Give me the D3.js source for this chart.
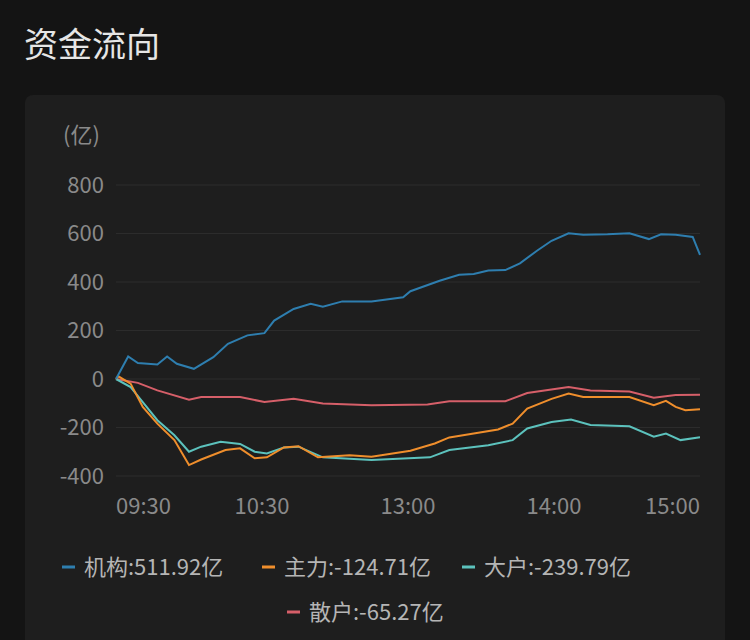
<!DOCTYPE html><html><head><meta charset="utf-8"><script src="https://cdn.jsdelivr.net/npm/d3@7"></script>
<style>body{margin:0;background:#141414;}svg{display:block;font-family:"Noto Sans CJK SC","Noto Sans",sans-serif;}</style></head><body>
<svg id="c" width="750" height="640"></svg>
<script>
const seriesNames=["机构","主力","大户","散户"];
const seriesTotals=["511.92亿","-124.71亿","-239.79亿","-65.27亿"];
const colors=["#2e7eaf","#ef8e2c","#5cc2bd","#d65f69"];
const yTicks=[800,600,400,200,0,-200,-400];
const xTickLabels=["09:30","10:30","13:00","14:00","15:00"];
const xTickMinutes=[0,60,120,180,240];
const jigou=[[0,0],[5,93],[9,66],[17,60],[21,93],[25,63],[32,42],[40,90],[46,145],[54,180],[61,189],[65,241],[73,289],[80,310],[85,298],[93,320],[105,320],[118,337],[121,362],[133,405],[141,430],[147,433],[153,447],[160,449],[166,477],[173,529],[179,570],[186,601],[192,595],[202,597],[211,601],[219,577],[224,597],[230,595],[237,586],[240,512]];
const zhuli=[[0,0],[1,11],[6,-19],[11,-115],[17,-184],[24,-252],[30,-355],[35,-332],[45,-293],[51,-286],[57,-327],[62,-323],[69,-282],[75,-277],[83,-323],[96,-314],[105,-321],[121,-296],[131,-266],[137,-241],[147,-225],[157,-208],[163,-184],[169,-122],[179,-82],[186,-60],[192,-74],[202,-74],[211,-74],[221,-108],[226,-90],[230,-115],[234,-129],[240,-125]];
const dahu=[[0,0],[6,-33],[11,-95],[17,-170],[24,-232],[30,-300],[35,-279],[43,-259],[51,-268],[57,-300],[62,-307],[69,-282],[75,-279],[85,-323],[105,-334],[129,-323],[137,-293],[153,-273],[163,-252],[169,-204],[179,-177],[187,-167],[195,-190],[211,-195],[221,-238],[226,-225],[232,-252],[240,-240]];
const sanhu=[[0,0],[9,-16],[17,-47],[30,-85],[35,-74],[51,-74],[61,-95],[73,-81],[85,-101],[105,-108],[128,-105],[137,-92],[160,-92],[169,-58],[186,-33],[195,-47],[211,-52],[221,-77],[230,-66],[240,-65]];
const series=[jigou,zhuli,dahu,sanhu];

const svg=d3.select("#c");
svg.append("text").attr("x",24).attr("y",57).attr("fill","#e6e6e6").attr("font-size",34).text("资金流向");
svg.append("rect").attr("x",25).attr("y",95).attr("width",700).attr("height",580).attr("rx",8).attr("fill","#1e1e1e");
const x=d3.scaleLinear().domain([0,240]).range([116,700]);
const y=d3.scaleLinear().domain([-400,800]).range([476,185]);
svg.append("text").attr("x",63).attr("y",143).attr("fill","#8a8a8a").attr("font-size",22).text("(亿)");
const g=svg.append("g");
yTicks.forEach(t=>{
 g.append("line").attr("x1",116).attr("x2",700).attr("y1",y(t)).attr("y2",y(t)).attr("stroke","#2c2c2c").attr("stroke-width",1);
 g.append("text").attr("x",104).attr("y",y(t)).attr("dy","0.35em").attr("text-anchor","end").attr("fill","#8a8a8a").attr("font-size",22).text(t);
});
xTickMinutes.forEach((m,i)=>{
 const a=i==0?"start":i==xTickMinutes.length-1?"end":"middle";
 g.append("text").attr("x",x(m)).attr("y",514).attr("text-anchor",a).attr("fill","#8a8a8a").attr("font-size",22).text(xTickLabels[i]);
});
const line=d3.line().x(d=>x(d[0])).y(d=>y(d[1])).curve(d3.curveLinear);
[3,2,1,0].forEach(i=>{
 svg.append("path").attr("d",line(series[i])).attr("fill","none").attr("stroke",colors[i]).attr("stroke-width",2);
});
const legPos=[[62,567],[262,567],[462,567],[287,612]];
seriesNames.forEach((n,i)=>{
 const [lx,ly]=legPos[i];
 svg.append("line").attr("x1",lx).attr("x2",lx+13).attr("y1",ly).attr("y2",ly).attr("stroke",colors[i]).attr("stroke-width",3);
 svg.append("text").attr("x",lx+22).attr("y",ly).attr("dy","0.35em").attr("fill","#b5b5b5").attr("font-size",22).text(n+":"+seriesTotals[i]);
});
</script></body></html>
